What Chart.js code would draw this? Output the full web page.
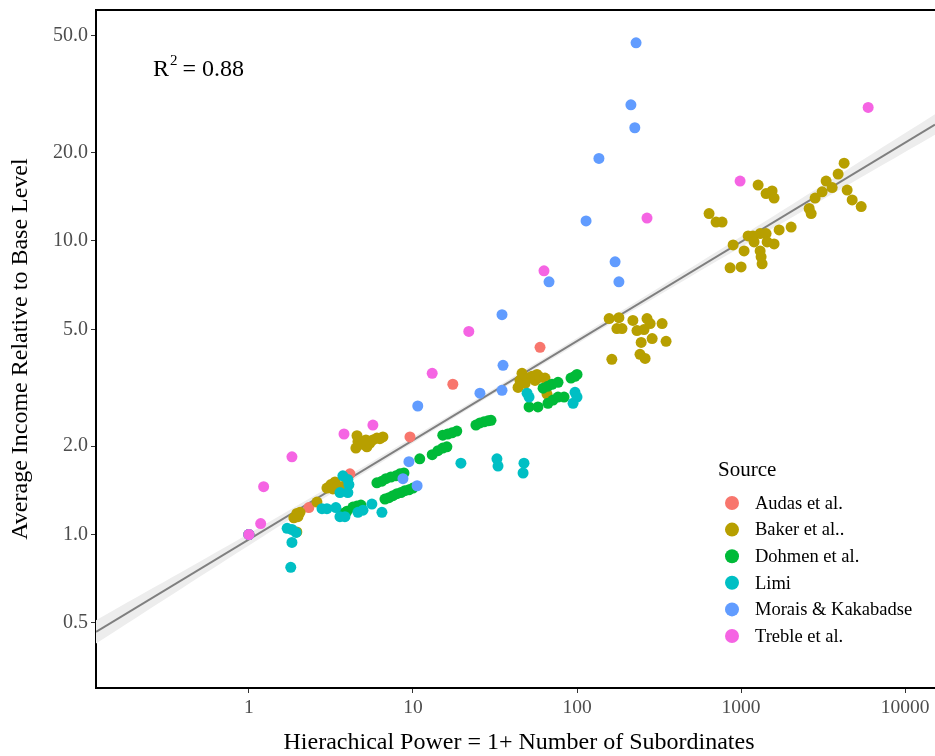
<!DOCTYPE html>
<html>
<head>
<meta charset="utf-8">
<script src="https://cdn.jsdelivr.net/npm/chart.js@4"></script>
<style>
  html, body { margin: 0; padding: 0; background: #fff; }
  #wrap { width: 935px; height: 756px; }
</style>
</head>
<body>
<div id="wrap"><canvas id="chart" width="935" height="756"></canvas></div>
<script>
// tick labels
const xTicks = [1, 10, 100, 1000, 10000];
const yTicks = [0.5, 1, 2, 5, 10, 20, 50];

// legend order / colours (ggplot hue palette)
const sources = ["Audas et al.", "Baker et al..", "Dohmen et al.", "Limi", "Morais & Kakabadse", "Treble et al."];
const colors = ["#F8766D", "#B79F00", "#00BA38", "#00BFC4", "#619CFF", "#F564E3"];

// data: x = 1 + subordinates, y = relative income
const audasX = [1, 2.32, 4.13, 9.59, 17.5, 59.5];
const audasY = [1, 1.235, 1.61, 2.15, 3.25, 4.34];

const bakerX = [1, 1.96, 1.88, 1.96, 2.05, 1.99, 2.60, 2.99, 3.16, 3.35, 3.25, 3.49, 3.85,
  4.49, 4.62, 4.56, 4.96, 5.17, 5.24, 5.47, 5.70, 6.03, 6.29, 6.56,
  43.7, 44.9, 46.2, 48.2, 50.2, 53.2, 55.5, 57.0, 59.5, 63.8, 65.6,
  157, 180, 175, 188, 219, 232, 256, 267, 279, 330, 246, 287, 349, 163, 242, 260,
  638, 704, 766, 1270, 1420, 1545, 1589, 894, 1043, 857, 1000, 1104, 1183, 1306, 1420,
  1200, 1441, 1589, 1306, 1324, 1343, 1706, 2018, 2600, 2673, 2826, 3119, 3298, 3589,
  3902, 4246, 4430, 4753, 5395];
const bakerY = [1, 1.02, 1.14, 1.18, 1.19, 1.15, 1.29, 1.44, 1.48, 1.51, 1.43, 1.46, 1.47,
  1.97, 2.07, 2.17, 2.03, 2.10, 1.99, 2.05, 2.10, 2.13, 2.12, 2.15,
  3.17, 3.35, 3.54, 3.27, 3.41, 3.46, 3.35, 3.51, 3.43, 3.41, 3.01,
  5.44, 5.48, 5.03, 5.03, 5.36, 4.95, 4.99, 5.44, 5.23, 5.23, 4.51, 4.65, 4.55, 3.95, 4.11, 3.98,
  12.4, 11.6, 11.6, 15.5, 14.5, 14.8, 14.0, 9.69, 9.25, 8.10, 8.16, 10.4, 10.4, 10.6, 10.6,
  9.92, 9.92, 9.77, 9.25, 8.83, 8.36, 10.9, 11.15, 12.9, 12.4, 14.0, 14.7, 16.0, 15.2,
  16.9, 18.4, 14.9, 13.8, 13.1];

const dohmenX = [3.74, 3.96, 4.31, 4.56, 4.82,
  6.03, 6.47, 6.84, 7.34, 7.88, 8.33, 8.81,
  6.75, 7.14, 7.55, 7.99, 8.45, 8.93, 9.45, 10.0,
  11.0, 13.1, 14.2, 15.2, 16.1,
  15.2, 16.3, 17.3, 18.5,
  24.2, 25.6, 27.1, 28.7, 29.9,
  51.0, 57.8,
  62.1, 66.5, 70.4, 76.6,
  66.5, 71.4, 76.6, 83.4,
  91.9, 97.2, 100];
const dohmenY = [1.18, 1.20, 1.24, 1.25, 1.26,
  1.50, 1.52, 1.55, 1.57, 1.585, 1.61, 1.62,
  1.32, 1.335, 1.356, 1.377, 1.39, 1.41, 1.42, 1.44,
  1.81, 1.87, 1.93, 1.97, 1.99,
  2.18, 2.20, 2.22, 2.25,
  2.36, 2.40, 2.42, 2.44, 2.45,
  2.72, 2.72,
  3.15, 3.20, 3.25, 3.30,
  2.80, 2.87, 2.94, 2.94,
  3.41, 3.46, 3.51];

const limiX = [1, 1.71, 1.83, 1.94, 1.83, 1.80, 2.79, 2.99, 3.39, 3.59, 3.85,
  3.74, 4.01, 4.07, 3.59, 4.01, 4.62, 4.96, 5.62, 6.47,
  19.6, 32.5, 33.0, 47.5, 46.9, 49.6, 51.0, 97.2, 100, 94.6];
const limiY = [1, 1.05, 1.04, 1.016, 0.94, 0.773, 1.225, 1.225, 1.235, 1.15, 1.15,
  1.585, 1.54, 1.48, 1.39, 1.39, 1.19, 1.21, 1.27, 1.19,
  1.75, 1.81, 1.71, 1.75, 1.62, 3.03, 2.94, 3.05, 2.94, 2.80];

const moraisX = [1, 229, 213, 225, 136, 113.5, 170.6, 180, 67.5, 34.9, 35.4, 25.6, 34.9, 10.7, 9.45, 8.69, 10.6];
const moraisY = [1, 47.3, 29.1, 24.3, 19.1, 11.7, 8.49, 7.26, 7.26, 5.61, 3.77, 3.03, 3.10, 2.74, 1.77, 1.55, 1.466];

const trebleX = [1, 1.18, 1.23, 1.83, 3.80, 5.70, 13.1, 21.9, 62.9, 267, 986, 5950];
const trebleY = [1, 1.09, 1.455, 1.84, 2.20, 2.36, 3.54, 4.92, 7.91, 11.97, 16.0, 28.5];

// fitted line and its confidence band, read at a few x positions
const fitX = [0.117, 15200];
const fitY = [0.466, 24.9];
const bandX = [0.117, 1, 10, 100, 1000, 15200];
const bandLow = [0.425, 0.918, 2.05, 4.46, 9.54, 23.0];
const bandHigh = [0.510, 1.007, 2.145, 4.67, 10.36, 27.0];

const zip = (xs, ys) => xs.map((x, i) => ({ x, y: ys[i] }));
const seriesX = [audasX, bakerX, dohmenX, limiX, moraisX, trebleX];
const seriesY = [audasY, bakerY, dohmenY, limiY, moraisY, trebleY];

const pointSets = sources.map((name, i) => ({
  label: name,
  data: zip(seriesX[i], seriesY[i]),
  backgroundColor: colors[i],
  borderWidth: 0,
  pointRadius: 5.5,
  pointHoverRadius: 5.5,
  showLine: false,
})).reverse(); // first dataset is drawn on top, so Treble goes first

const serif = "'Liberation Serif', 'DejaVu Serif', serif";

// draw titles, R² note, legend and the top frame line
const decorations = {
  id: "decorations",
  afterDraw(chart) {
    const { ctx, chartArea } = chart;
    ctx.save();
    ctx.strokeStyle = "#000";
    ctx.lineWidth = 2;
    ctx.beginPath();
    ctx.moveTo(chartArea.left - 1, chartArea.top);
    ctx.lineTo(chart.width, chartArea.top);
    ctx.stroke();

    ctx.fillStyle = "#000";
    ctx.font = "24px " + serif;
    ctx.textBaseline = "alphabetic";
    ctx.textAlign = "left";
    ctx.fillText("R", 153, 76);
    let w = ctx.measureText("R").width;
    ctx.font = "15px " + serif;
    ctx.fillText("2", 153 + w + 1, 65);
    let w2 = ctx.measureText("2").width;
    ctx.font = "24px " + serif;
    ctx.fillText(" = 0.88", 153 + w + w2, 76);

    // axis titles
    ctx.font = "24px " + serif;
    ctx.textAlign = "center";
    ctx.textBaseline = "middle";
    ctx.fillText("Hierachical Power = 1+ Number of Subordinates", 519, 743);
    ctx.save();
    ctx.translate(21, 349);
    ctx.rotate(-Math.PI / 2);
    ctx.fillText("Average Income Relative to Base Level", 0, 0);
    ctx.restore();

    // legend
    ctx.textAlign = "left";
    ctx.font = "21px " + serif;
    ctx.fillText("Source", 718, 470);
    ctx.font = "18.5px " + serif;
    sources.forEach((name, i) => {
      const y = 503 + i * 26.6;
      ctx.fillStyle = colors[i];
      ctx.beginPath();
      ctx.arc(732, y, 7, 0, Math.PI * 2);
      ctx.fill();
      ctx.fillStyle = "#000";
      ctx.fillText(name, 755, y + 1);
    });
    ctx.restore();
  },
};

new Chart(document.getElementById("chart"), {
  type: "scatter",
  data: {
    datasets: [
      ...pointSets,
      {
        label: "fit",
        data: zip(fitX, fitY),
        showLine: true,
        borderColor: "#7F7F7F",
        borderWidth: 2,
        pointRadius: 0,
        fill: false,
      },
      {
        label: "band high",
        data: zip(bandX, bandHigh),
        showLine: true,
        borderWidth: 0,
        borderColor: "rgba(0,0,0,0)",
        backgroundColor: "#EDEDED",
        pointRadius: 0,
        tension: 0.4,
        fill: "+1",
      },
      {
        label: "band low",
        data: zip(bandX, bandLow),
        showLine: true,
        borderWidth: 0,
        borderColor: "rgba(0,0,0,0)",
        pointRadius: 0,
        tension: 0.4,
        fill: false,
      },
    ],
  },
  options: {
    responsive: false,
    animation: false,
    events: [],
    layout: { autoPadding: false, padding: { top: 10, right: 0, left: 0, bottom: 0 } },
    plugins: {
      legend: { display: false },
      tooltip: { enabled: false },
    },
    scales: {
      x: {
        type: "logarithmic",
        min: 0.117,
        max: 15200,
        afterBuildTicks: (axis) => { axis.ticks = xTicks.map((v) => ({ value: v })); },
        afterFit: (axis) => { axis.height = 68; axis.paddingRight = 0; axis.paddingLeft = 0; },
        ticks: {
          callback: (v) => String(v),
          color: "#4D4D4D",
          font: { family: serif, size: 19.5 },
          padding: 3,
          maxRotation: 0,
          autoSkip: false,
        },
        grid: { drawOnChartArea: false, tickLength: 5, tickColor: "#333", tickWidth: 1 },
        border: { color: "#000", width: 2 },
      },
      y: {
        type: "logarithmic",
        min: 0.308,
        max: 61.2,
        afterBuildTicks: (axis) => { axis.ticks = yTicks.map((v) => ({ value: v })); },
        afterFit: (axis) => { axis.width = 96; axis.paddingTop = 0; axis.paddingBottom = 0; },
        ticks: {
          callback: (v) => Number(v).toFixed(1),
          color: "#4D4D4D",
          font: { family: serif, size: 20 },
          padding: 3,
          autoSkip: false,
        },
        grid: { drawOnChartArea: false, tickLength: 5, tickColor: "#333", tickWidth: 1 },
        border: { color: "#000", width: 2 },
      },
    },
  },
  plugins: [decorations],
});
</script>
</body>
</html>
